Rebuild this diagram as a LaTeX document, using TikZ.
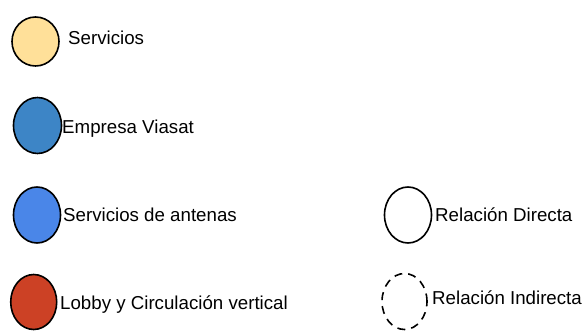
\documentclass[tikz,border=0pt]{standalone}
\usepackage{fontspec}
\setmainfont{Liberation Sans}
\usetikzlibrary{shapes.geometric}
\definecolor{cyellow}{HTML}{FFE099}
\definecolor{cblue}{HTML}{3D85C6}
\definecolor{clblue}{HTML}{4A86E8}
\definecolor{cred}{HTML}{CC4125}
\tikzset{
  blob/.style={ellipse, draw=black, line width=1.6pt, inner sep=0pt},
  lbl/.style={anchor=base west, inner sep=0pt, font=\fontsize{18.7pt}{22pt}\selectfont}
}
\begin{document}
\begin{tikzpicture}[x=1pt,y=-1pt]
\useasboundingbox (0,0) rectangle (584,331);
\node[blob, fill=cyellow, minimum width=47pt, minimum height=49pt] (e1) at (35.5,41.5) {};
\node[lbl] (t1) at (68,45) {Servicios};
\node[blob, fill=cblue, minimum width=48pt, minimum height=56pt] (e2) at (37.5,125.5) {};
\node[lbl] (t2) at (62,134) {Empresa Viasat};
\node[blob, fill=clblue, minimum width=47pt, minimum height=56pt] (e3) at (37,215) {};
\node[lbl] (t3) at (63,222) {Servicios de antenas};
\node[blob, fill=cred, minimum width=46pt, minimum height=55pt] (e4) at (33.7,302) {};
\node[lbl] (t4) at (60,309) {Lobby y Circulación vertical};
\node[blob, fill=white, minimum width=47pt, minimum height=56pt] (e5) at (408,215) {};
\node[lbl] (t5) at (435,222) {Relación Directa};
\node[blob, fill=white, dash pattern=on 8pt off 6pt, minimum width=45pt, minimum height=56pt] (e6) at (404.5,301.5) {};
\node[lbl] (t6) at (432,305) {Relación Indirecta};
\end{tikzpicture}
\end{document}
